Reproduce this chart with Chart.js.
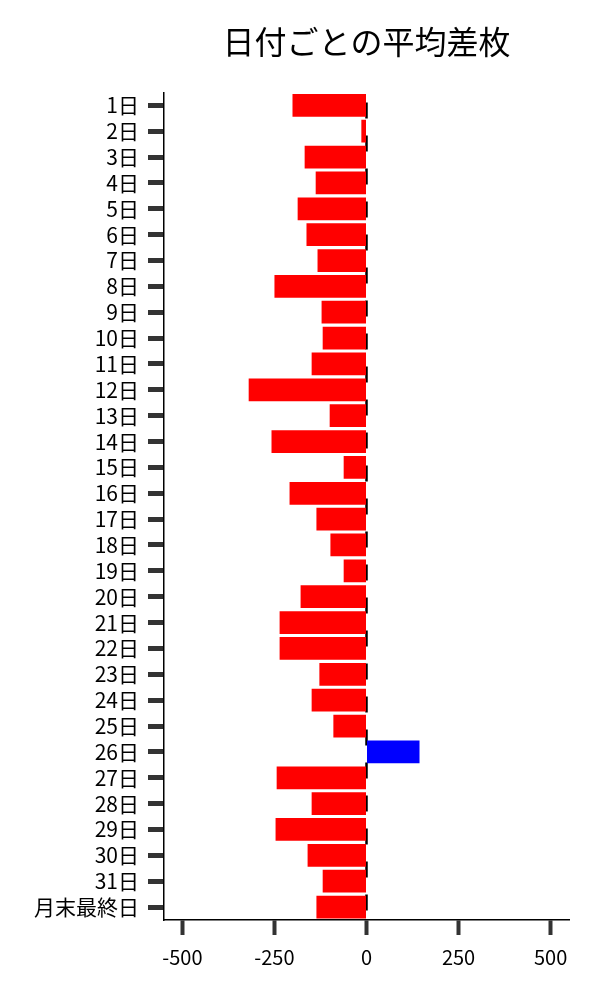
<!DOCTYPE html>
<html>
<head>
<meta charset="utf-8">
<script src="https://cdn.jsdelivr.net/npm/chart.js@4"></script>
<style>
  html, body { margin: 0; padding: 0; background: #fff; }
  #wrap { width: 600px; height: 1000px; }
</style>
</head>
<body>
<div id="wrap"><canvas id="chart"></canvas></div>
<script>
const days = ['1日', '2日', '3日', '4日', '5日', '6日', '7日', '8日', '9日', '10日',
  '11日', '12日', '13日', '14日', '15日', '16日', '17日', '18日', '19日', '20日',
  '21日', '22日', '23日', '24日', '25日', '26日', '27日', '28日', '29日', '30日',
  '31日', '月末最終日'];
const avgDiff = [-201, -14, -168, -138, -187, -163, -133, -250, -122, -119,
  -149, -320, -100, -258, -62, -209, -136, -98, -62, -179,
  -236, -236, -128, -149, -90, 144, -244, -149, -247, -160,
  -119, -136];
const xTicks = [-500, -250, 0, 250, 500];

const font = '"Noto Sans CJK JP", "Noto Sans", sans-serif';

// dashed line at zero, drawn behind the bars
const zeroLine = {
  id: 'zeroLine',
  beforeDatasetsDraw(chart) {
    const { ctx, chartArea, scales } = chart;
    const x = scales.x.getPixelForValue(0);
    ctx.save();
    ctx.strokeStyle = '#000';
    ctx.lineWidth = 2.5;
    ctx.setLineDash([16, 17]);
    ctx.lineDashOffset = -10;
    ctx.beginPath();
    ctx.moveTo(x, chartArea.top);
    ctx.lineTo(x, chartArea.bottom);
    ctx.stroke();
    ctx.restore();
  }
};

new Chart(document.getElementById('chart'), {
  type: 'bar',
  plugins: [zeroLine],
  data: {
    labels: days,
    datasets: [{
      data: avgDiff,
      backgroundColor: avgDiff.map(v => v >= 0 ? '#0000ff' : '#ff0000'),
      barPercentage: 0.88,
      categoryPercentage: 1.0
    }]
  },
  options: {
    indexAxis: 'y',
    responsive: true,
    maintainAspectRatio: false,
    animation: false,
    layout: { padding: { left: 0, right: 31, top: 0, bottom: 0 } },
    plugins: {
      legend: { display: false },
      tooltip: { enabled: false },
      title: {
        display: true,
        text: '日付ごとの平均差枚',
        fullSize: false,
        color: '#000',
        font: { family: font, size: 32, weight: 'normal', lineHeight: 1.2 },
        padding: { top: 23, bottom: 31 }
      }
    },
    scales: {
      x: {
        min: -550,
        max: 550,
        afterBuildTicks(scale) {
          scale.ticks = xTicks.map(v => ({ value: v }));
        },
        afterFit(scale) { scale.height = 80; },
        grid: {
          drawOnChartArea: false,
          drawTicks: true,
          tickLength: 15,
          tickWidth: 4,
          tickColor: '#333'
        },
        border: { color: '#000', width: 1.5 },
        ticks: {
          color: '#000',
          padding: 10,
          font: { family: font, size: 20 }
        }
      },
      y: {
        afterFit(scale) { scale.width = 164; },
        grid: {
          drawOnChartArea: false,
          drawTicks: true,
          tickLength: 16,
          tickWidth: 5,
          tickColor: '#333',
          offset: false
        },
        border: { color: '#000', width: 1.5 },
        ticks: {
          color: '#000',
          padding: 9,
          autoSkip: false,
          font: { family: font, size: 21 }
        }
      }
    }
  }
});
</script>
</body>
</html>
